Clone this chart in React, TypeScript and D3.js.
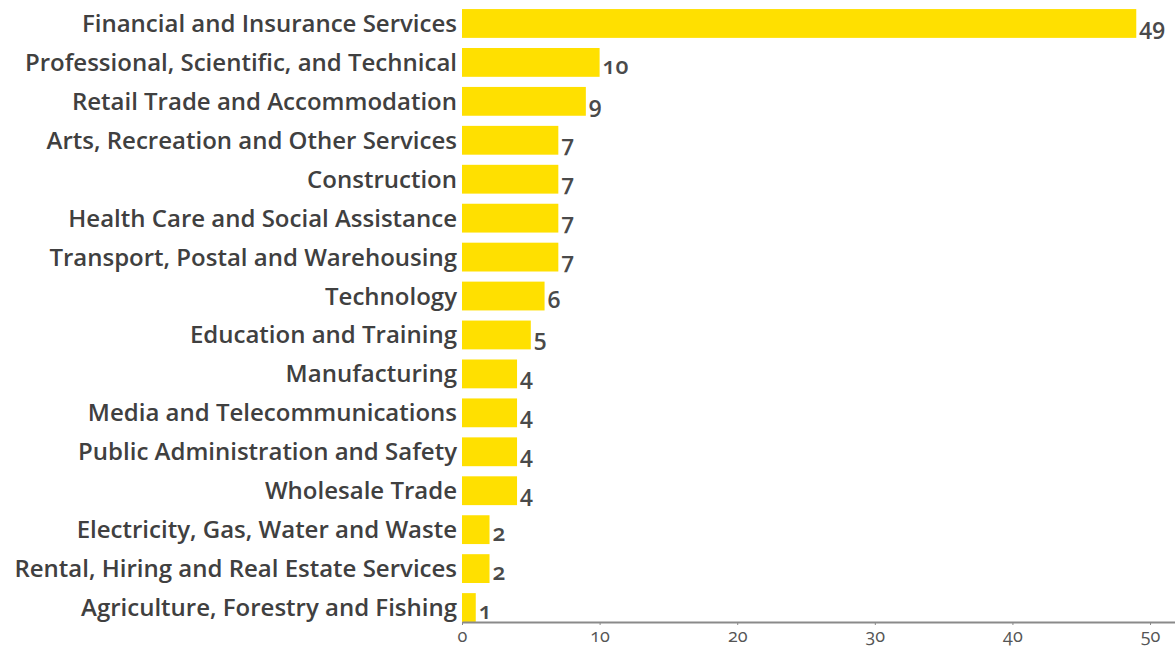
import React, { useEffect, useRef } from "react";
import * as d3 from "d3";

const categories = [
  "Financial and Insurance Services",
  "Professional, Scientific, and Technical",
  "Retail Trade and Accommodation",
  "Arts, Recreation and Other Services",
  "Construction",
  "Health Care and Social Assistance",
  "Transport, Postal and Warehousing",
  "Technology",
  "Education and Training",
  "Manufacturing",
  "Media and Telecommunications",
  "Public Administration and Safety",
  "Wholesale Trade",
  "Electricity, Gas, Water and Waste",
  "Rental, Hiring and Real Estate Services",
  "Agriculture, Forestry and Fishing",
];
const values = [49, 10, 9, 7, 7, 7, 7, 6, 5, 4, 4, 4, 4, 2, 2, 1];
const tickValues = [0, 10, 20, 30, 40, 50];

const W = 1175;
const H = 648;
const FONT = "'Open Sans', Lato, sans-serif";

export default function App() {
  const ref = useRef<SVGSVGElement | null>(null);

  useEffect(() => {
    const svg = d3.select(ref.current);
    svg.selectAll("*").remove();

    const x = d3.scaleLinear().domain([0, 51.8]).range([462, 1174.8]);
    const y = d3
      .scaleBand<string>()
      .domain(categories)
      .range([4, 627])
      .paddingInner(0.26)
      .paddingOuter(0.13);

    const data = categories.map((c, i) => ({ c, v: values[i] }));

    svg
      .append("g")
      .selectAll("rect")
      .data(data)
      .join("rect")
      .attr("x", x(0))
      .attr("y", (d) => y(d.c)!)
      .attr("width", (d) => x(d.v) - x(0))
      .attr("height", y.bandwidth())
      .attr("fill", "#FFE000");

    svg
      .append("g")
      .selectAll("text")
      .data(data)
      .join("text")
      .attr("x", x(0) - 5)
      .attr("y", (d) => y(d.c)! + y.bandwidth() / 2)
      .attr("dy", "0.355em")
      .attr("text-anchor", "end")
      .attr("font-family", FONT)
      .attr("font-weight", 600)
      .attr("font-size", 24)
      .attr("fill", "#404040")
      .text((d) => d.c);

    svg
      .append("g")
      .selectAll("text")
      .data(data)
      .join("text")
      .attr("x", (d) => x(d.v) + 3)
      .attr("y", (d) => y(d.c)! + y.bandwidth() / 2)
      .attr("dy", "0.5em")
      .attr("font-family", FONT)
      .attr("font-weight", 600)
      .attr("font-size", 23)
      .attr("fill", "#4a4a4a")
      .style("font-variant-numeric", "oldstyle-nums")
      .text((d) => String(d.v));

    const axis = svg
      .append("g")
      .attr("transform", `translate(0,622)`)
      .call(
        d3
          .axisBottom(x)
          .tickValues(tickValues)
          .tickSizeInner(3)
          .tickSizeOuter(0)
          .tickPadding(4)
      );
    axis.select(".domain").attr("stroke", "#8a8a8a").attr("stroke-width", 2);
    axis.selectAll(".tick line").attr("stroke", "#8a8a8a");
    axis
      .selectAll(".tick text")
      .attr("font-family", FONT)
      .attr("font-size", 18)
      .attr("font-weight", 500)
      .attr("fill", "#555555")
      .style("font-variant-numeric", "oldstyle-nums");
  }, []);

  return (
    <svg
      ref={ref}
      width={W}
      height={H}
      style={{ position: "absolute", left: 0, top: 0, background: "#fff" }}
    />
  );
}
